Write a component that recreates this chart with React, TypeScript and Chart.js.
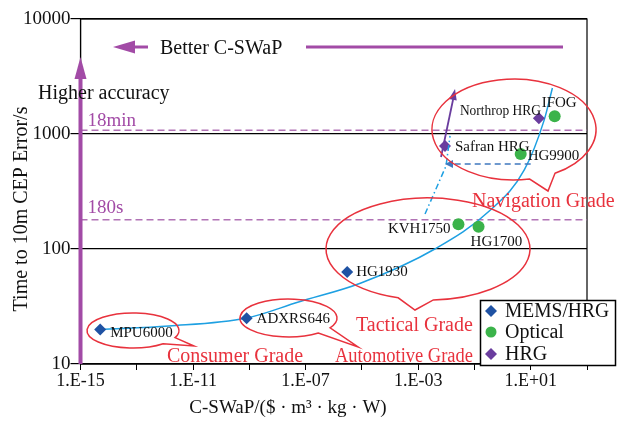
import React, { useEffect, useRef } from "react";
import { Chart, registerables } from "chart.js";
Chart.register(...registerables);

// ---- data ----
const memsNames = ["MPU6000", "ADXRS646", "HG1930"];
const memsX = [5e-15, 8e-10, 3e-6];
const memsY = [20, 25, 63];

const opticalNames = ["KVH1750", "HG1700", "HG9900", "IFOG"];
const opticalX = [0.027, 0.14, 4.4, 71];
const opticalY = [164, 156, 670, 1425];

const hrgNames = ["Northrop HRG", "Safran HRG"];
const hrgX = [19.5, 0.009];
const hrgY = [1370, 787];

const trendX = [5e-15, 1.4e-12, 8e-10, 5.6e-8, 9.3e-6, 3.9e-3, 0.37, 5.9, 30, 59];
const trendY = [20, 21.4, 25.1, 34.6, 50.6, 100, 218, 487, 1320, 2512];

const thresholdValues = [1080, 180];
const thresholdLabels = ["18min", "180s"];

const xTickExponents = [-15, -13, -11, -9, -7, -5, -3, -1, 1, 3];
const xLabelExponents = [-15, -11, -7, -3, 1];
const yTickValues = [10, 100, 1000, 10000];

const gradeLabels = ["Navigation Grade", "Tactical Grade", "Consumer Grade", "Automotive Grade"];
const legendLabels = ["MEMS/HRG", "Optical", "HRG"];

const xMin = 1e-15;
const xMax = 1e3;
const yMin = 10;
const yMax = 10000;

// ---- styles ----
const FONT = '"Liberation Serif", "Times New Roman", serif';
const BLUE = "#1f52a3";
const GREEN = "#3bb34a";
const PURPLE = "#6a3d9e";
const MAGENTA = "#a24ba6";
const RED = "#e8323d";
const CURVE = "#1ea0e2";

const fmtExp = (e: number) => {
  const s = e < 0 ? "-" : "+";
  const a = Math.abs(e);
  return "1.E" + s + (a < 10 ? "0" + a : String(a));
};

function arrowHead(ctx: CanvasRenderingContext2D, x0: number, y0: number, x1: number, y1: number, len: number, half: number, color: string) {
  const a = Math.atan2(y1 - y0, x1 - x0);
  const bx = x1 - len * Math.cos(a);
  const by = y1 - len * Math.sin(a);
  ctx.beginPath();
  ctx.moveTo(x1, y1);
  ctx.lineTo(bx + half * Math.sin(a), by - half * Math.cos(a));
  ctx.lineTo(bx - half * Math.sin(a), by + half * Math.cos(a));
  ctx.closePath();
  ctx.fillStyle = color;
  ctx.fill();
}

function callout(ctx: CanvasRenderingContext2D, cx: number, cy: number, rx: number, ry: number, a1: number, a2: number, tx: number, ty: number) {
  const r = (d: number) => (d * Math.PI) / 180;
  ctx.beginPath();
  ctx.ellipse(cx, cy, rx, ry, 0, r(a2), r(a1) + 2 * Math.PI);
  ctx.lineTo(tx, ty);
  ctx.closePath();
  ctx.stroke();
}

const overlayPlugin = {
  id: "overlay",
  beforeDatasetsDraw(chart: any) {
    const ctx: CanvasRenderingContext2D = chart.ctx;
    const { left, right, top, bottom } = chart.chartArea;
    ctx.save();
    ctx.strokeStyle = "#000";
    ctx.lineWidth = 1.2;
    ctx.strokeRect(left, top, right - left, bottom - top);
    ctx.restore();
  },
  afterDatasetsDraw(chart: any) {
    const ctx: CanvasRenderingContext2D = chart.ctx;
    const xs = chart.scales.x;
    const ys = chart.scales.y;
    const P = (x: number, y: number) => [xs.getPixelForValue(x), ys.getPixelForValue(y)];
    const { left } = chart.chartArea;
    ctx.save();

    // threshold labels
    ctx.font = `19px ${FONT}`;
    ctx.fillStyle = MAGENTA;
    ctx.textAlign = "left";
    ctx.textBaseline = "alphabetic";
    const thOff = [-4, -7];
    thresholdValues.forEach((v, i) => {
      ctx.fillText(thresholdLabels[i], left + 7, ys.getPixelForValue(v) + thOff[i]);
    });

    // blue dash-dot and dashed arrows (Safran path)
    const [sx, sy] = P(hrgX[1], hrgY[1]);
    const [hx] = P(opticalX[2], opticalY[2]);
    ctx.strokeStyle = CURVE;
    ctx.lineWidth = 1.5;
    ctx.setLineDash([6, 3, 1.5, 3]);
    ctx.beginPath();
    ctx.moveTo(sx - 20, sy + 68);
    ctx.lineTo(sx + 1, sy + 20);
    ctx.lineTo(sx + 5, sy - 10);
    ctx.stroke();
    ctx.strokeStyle = "#3f78bf";
    ctx.setLineDash([6, 4]);
    ctx.beginPath();
    ctx.moveTo(hx + 10, sy + 18);
    ctx.lineTo(sx + 6, sy + 18);
    ctx.stroke();
    ctx.setLineDash([]);
    arrowHead(ctx, sx + 12, sy + 18, sx, sy + 18, 8, 4, "#3f78bf");

    // purple arrow Safran -> up
    ctx.strokeStyle = PURPLE;
    ctx.lineWidth = 1.8;
    ctx.beginPath();
    ctx.moveTo(sx - 4, sy + 11);
    ctx.lineTo(sx + 9, sy - 51);
    ctx.stroke();
    arrowHead(ctx, sx - 4, sy + 11, sx + 10, sy - 57, 11, 4, PURPLE);

    // callout ellipses
    ctx.strokeStyle = RED;
    ctx.lineWidth = 1.5;
    callout(ctx, 514, 129.5, 82, 50.5, 60, 79, 548, 191);
    callout(ctx, 428, 249, 102, 51, 87, 107, 415, 310);
    callout(ctx, 133, 330.5, 46, 17.5, 24, 49, 194, 346);
    callout(ctx, 288.5, 318, 48.5, 19, 31, 52, 358, 347);

    // grade labels
    ctx.font = `20px ${FONT}`;
    ctx.fillStyle = RED;
    ctx.textAlign = "left";
    ctx.fillText(gradeLabels[0], 472, 207, 144);
    ctx.fillText(gradeLabels[1], 356, 331, 120);
    ctx.fillText(gradeLabels[2], 167, 362, 140);
    ctx.fillText(gradeLabels[3], 335, 362, 138);

    ctx.restore();
  },
  afterDraw(chart: any) {
    const ctx: CanvasRenderingContext2D = chart.ctx;
    const xs = chart.scales.x;
    const ys = chart.scales.y;
    const P = (x: number, y: number) => [xs.getPixelForValue(x), ys.getPixelForValue(y)];
    const { left, bottom } = chart.chartArea;
    ctx.save();

    // point labels
    ctx.font = `15px ${FONT}`;
    ctx.fillStyle = "#111";
    ctx.textBaseline = "middle";
    const lab = (name: string, x: number, y: number, dx: number, dy: number, align: CanvasTextAlign, maxW?: number) => {
      const [px, py] = P(x, y);
      ctx.textAlign = align;
      if (maxW) ctx.fillText(name, px + dx, py + dy, maxW);
      else ctx.fillText(name, px + dx, py + dy);
    };
    lab(memsNames[0], memsX[0], memsY[0], 10, 4, "left");
    lab(memsNames[1], memsX[1], memsY[1], 10, 1, "left");
    lab(memsNames[2], memsX[2], memsY[2], 9, 0, "left");
    lab(opticalNames[0], opticalX[0], opticalY[0], -8, 5, "right");
    lab(opticalNames[1], opticalX[1], opticalY[1], -8, 15, "left");
    lab(opticalNames[2], opticalX[2], opticalY[2], 7, 2, "left");
    lab(opticalNames[3], opticalX[3], opticalY[3], -13, -13, "left");
    lab(hrgNames[0], hrgX[0], hrgY[0], 2, -7, "right", 81);
    lab(hrgNames[1], hrgX[1], hrgY[1], 10, 1, "left");

    // y-axis "higher accuracy" arrow
    ctx.strokeStyle = MAGENTA;
    ctx.lineWidth = 4;
    ctx.beginPath();
    ctx.moveTo(left, bottom);
    ctx.lineTo(left, 74);
    ctx.stroke();
    arrowHead(ctx, left, 120, left, 57, 22, 6, MAGENTA);

    ctx.font = `20px ${FONT}`;
    ctx.fillStyle = "#111";
    ctx.textAlign = "left";
    ctx.textBaseline = "alphabetic";
    ctx.fillText("Higher accuracy", 38, 99);

    // Better C-SWaP arrow
    ctx.strokeStyle = MAGENTA;
    ctx.lineWidth = 3;
    ctx.beginPath();
    ctx.moveTo(148, 47);
    ctx.lineTo(128, 47);
    ctx.stroke();
    arrowHead(ctx, 148, 47, 113, 47, 22, 6.5, MAGENTA);
    ctx.beginPath();
    ctx.moveTo(306, 47);
    ctx.lineTo(563, 47);
    ctx.stroke();
    ctx.fillStyle = "#111";
    ctx.fillText("Better C-SWaP", 160, 54);

    // axis titles
    ctx.font = `19px ${FONT}`;
    ctx.textAlign = "center";
    ctx.textBaseline = "middle";
    ctx.fillText("C-SWaP/($ · m³ · kg · W)", 288, 408);
    ctx.save();
    ctx.translate(22, 209);
    ctx.rotate(-Math.PI / 2);
    ctx.font = `20px ${FONT}`;
    ctx.fillText("Time to 10m CEP Error/s", 0, 0);
    ctx.restore();

    // legend
    ctx.fillStyle = "#fff";
    ctx.fillRect(480, 300, 136, 66);
    ctx.strokeStyle = "#000";
    ctx.lineWidth = 1.5;
    ctx.strokeRect(480.5, 300.5, 135, 65);
    const cols = [BLUE, GREEN, PURPLE];
    const ly = [311, 332, 354];
    legendLabels.forEach((t, i) => {
      ctx.fillStyle = cols[i];
      ctx.beginPath();
      if (i === 1) {
        ctx.arc(491, ly[i], 5.5, 0, Math.PI * 2);
      } else {
        ctx.moveTo(491, ly[i] - 6);
        ctx.lineTo(497, ly[i]);
        ctx.lineTo(491, ly[i] + 6);
        ctx.lineTo(485, ly[i]);
        ctx.closePath();
      }
      ctx.fill();
      ctx.fillStyle = "#111";
      ctx.font = `20px ${FONT}`;
      ctx.textAlign = "left";
      ctx.textBaseline = "middle";
      ctx.fillText(t, 505, ly[i] + 1, 104);
    });

    ctx.restore();
  },
};

export default function App() {
  const ref = useRef<HTMLCanvasElement | null>(null);
  useEffect(() => {
    if (!ref.current) return;
    const pts = (xs: number[], ys: number[]) => xs.map((x, i) => ({ x, y: ys[i] }));
    const chart = new Chart(ref.current, {
      type: "scatter",
      data: {
        datasets: [
          { label: "MEMS/HRG", data: pts(memsX, memsY), pointStyle: "rectRot", pointRadius: 6, backgroundColor: BLUE, borderColor: BLUE, borderWidth: 0 },
          { label: "Optical", data: pts(opticalX, opticalY), pointStyle: "circle", pointRadius: 6, backgroundColor: GREEN, borderColor: GREEN, borderWidth: 0 },
          { label: "HRG", data: pts(hrgX, hrgY), pointStyle: "rectRot", pointRadius: 6, backgroundColor: PURPLE, borderColor: PURPLE, borderWidth: 0 },
          { label: "trend", data: pts(trendX, trendY), showLine: true, pointRadius: 0, borderColor: CURVE, borderWidth: 1.5, cubicInterpolationMode: "monotone" },
          ...thresholdValues.map((v) => ({
            label: "th" + v,
            data: [{ x: xMin, y: v }, { x: xMax, y: v }],
            showLine: true,
            pointRadius: 0,
            borderColor: "#b173b5",
            borderWidth: 1.5,
            borderDash: [7, 4],
          })),
        ] as any,
      },
      options: {
        animation: false,
        responsive: false,
        devicePixelRatio: 1,
        layout: { padding: { top: 19, right: 30, left: 0, bottom: 0 } },
        plugins: { legend: { display: false }, tooltip: { enabled: false } },
        scales: {
          x: {
            type: "logarithmic",
            min: xMin,
            max: xMax,
            afterFit: (s: any) => { s.height = 57; },
            afterBuildTicks: (s: any) => { s.ticks = xTickExponents.map((e) => ({ value: Math.pow(10, e) })); },
            ticks: {
              autoSkip: false,
              maxRotation: 0,
              padding: 0,
              color: "#111",
              font: { family: FONT, size: 18 },
              callback: (_v: any, i: number) => (xLabelExponents.includes(xTickExponents[i]) ? fmtExp(xTickExponents[i]) : ""),
            },
            grid: { drawOnChartArea: false, drawTicks: true, tickLength: 6, color: "#000" },
            border: { display: true, color: "#000", width: 1.2 },
          },
          y: {
            type: "logarithmic",
            min: yMin,
            max: yMax,
            afterFit: (s: any) => { s.width = 80.5; },
            afterBuildTicks: (s: any) => { s.ticks = yTickValues.map((v) => ({ value: v })); },
            ticks: {
              autoSkip: false,
              padding: 0,
              color: "#111",
              font: { family: FONT, size: 19 },
              callback: (v: any) => String(v),
            },
            grid: { drawOnChartArea: true, drawTicks: true, tickLength: 10, color: "#000", lineWidth: 1.2 },
            border: { display: true, color: "#000", width: 1.2 },
          },
        },
      } as any,
      plugins: [overlayPlugin],
    });
    return () => chart.destroy();
  }, []);
  return (
    <div style={{ position: "absolute", left: 0, top: 0, width: 617, height: 421, background: "#fff" }}>
      <canvas ref={ref} width={617} height={421} style={{ display: "block" }} />
    </div>
  );
}
